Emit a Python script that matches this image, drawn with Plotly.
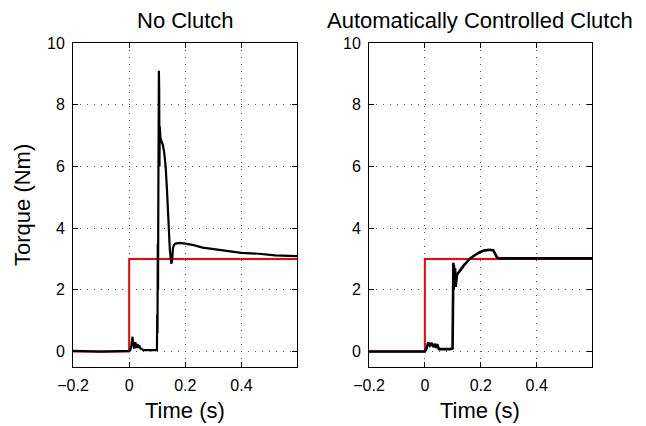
import plotly.graph_objects as go

# ---- data ----
ref_t = [-0.2, 0.0, 0.0, 0.6]
ref_torque = [0.0, 0.0, 3.0, 3.0]

t_no_clutch = [-0.2, -0.1, 0.0, 0.004, 0.008, 0.012, 0.015, 0.018, 0.022, 0.026, 0.030,
               0.033, 0.036, 0.040, 0.045, 0.050, 0.070, 0.090, 0.099, 0.100, 0.101,
               0.102, 0.103, 0.104, 0.105, 0.106, 0.107, 0.108, 0.109, 0.110, 0.111,
               0.112, 0.114, 0.116, 0.120, 0.125, 0.130, 0.135, 0.140, 0.145, 0.150,
               0.153, 0.156, 0.160, 0.165, 0.180, 0.200, 0.230, 0.262, 0.300, 0.345,
               0.400, 0.462, 0.520, 0.598]
torque_no_clutch = [0.02, 0.0, 0.02, 0.05, 0.2, 0.48, 0.2, 0.1, 0.3, 0.12, 0.25,
                    0.12, 0.2, 0.1, 0.08, 0.05, 0.05, 0.04, 0.05, 1.2, 0.6,
                    3.5, 2.0, 5.0, 8.0, 9.1, 8.5, 6.0, 7.3, 6.1, 7.0,
                    6.9, 6.85, 6.8, 6.7, 6.45, 6.0, 5.2, 4.2, 3.3, 2.85,
                    2.95, 3.35, 3.45, 3.5, 3.52, 3.5, 3.45, 3.37, 3.32, 3.25,
                    3.2, 3.17, 3.12, 3.09]

t_auto = [-0.2, -0.1, 0.0, 0.006, 0.012, 0.018, 0.024, 0.030, 0.036, 0.040, 0.044,
          0.050, 0.070, 0.090, 0.099, 0.100, 0.101, 0.102, 0.103, 0.104, 0.106,
          0.108, 0.110, 0.115, 0.120, 0.127, 0.140, 0.150, 0.162, 0.180, 0.198,
          0.215, 0.233, 0.245, 0.252, 0.258, 0.268, 0.300, 0.400, 0.500, 0.598]
torque_auto = [0.0, 0.0, 0.0, 0.1, 0.3, 0.2, 0.28, 0.15, 0.25, 0.12, 0.24,
               0.08, 0.07, 0.08, 0.1, 1.5, 2.5, 2.88, 2.0, 2.8, 2.2,
               2.7, 2.1, 2.5, 2.55, 2.64, 2.8, 2.9, 3.02, 3.13, 3.23,
               3.28, 3.3, 3.28, 3.15, 3.05, 3.02, 3.02, 3.02, 3.02, 3.02]

x_ticks = [-0.2, 0, 0.2, 0.4]
x_tick_labels = ["\u22120.2", "0", "0.2", "0.4"]
y_ticks = [0, 2, 4, 6, 8, 10]
titles = ["No Clutch", "Automatically Controlled Clutch"]
x_title = "Time (s)"
y_title = "Torque (Nm)"

FONT = "Liberation Sans, Arial, Helvetica, sans-serif"
TICK = 16
BIG = 22

fig = go.Figure()
fig.add_trace(go.Scatter(x=ref_t, y=ref_torque, mode="lines",
                         line=dict(color="#ff0000", width=2), xaxis="x", yaxis="y"))
fig.add_trace(go.Scatter(x=t_no_clutch, y=torque_no_clutch, mode="lines",
                         line=dict(color="black", width=2.2), xaxis="x", yaxis="y"))
fig.add_trace(go.Scatter(x=ref_t, y=ref_torque, mode="lines",
                         line=dict(color="#ff0000", width=2), xaxis="x2", yaxis="y2"))
fig.add_trace(go.Scatter(x=t_auto, y=torque_auto, mode="lines",
                         line=dict(color="black", width=2.6), xaxis="x2", yaxis="y2"))

# page body has an 8px margin, so figure coords = page coords - 8
W, H = 646, 426
L, R, T, B = 65, 62, 35, 67
pw = W - L - R
d1 = [0, 224 / pw]
d2 = [296 / pw, 1]

ax_common = dict(showline=True, linecolor="black", linewidth=1, mirror="ticks",
                 ticks="inside", ticklen=5, tickcolor="black", zeroline=False,
                 showgrid=True, gridcolor="#555555", griddash="1px,6px", gridwidth=1,
                 tickfont=dict(family=FONT, size=TICK, color="black"))

xax = dict(ax_common, range=[-0.2, 0.598], tickvals=x_ticks, ticktext=x_tick_labels,
           ticklabelstandoff=4)
yax = dict(ax_common, range=[-0.5, 10], tickvals=y_ticks, ticklabelstandoff=4)

ann = []
for title, d in zip(titles, [d1, d2]):
    cx = (d[0] + d[1]) / 2
    ann.append(dict(text=title, x=cx, y=1, xref="paper", yref="paper",
                    xanchor="center", yanchor="middle", yshift=23, showarrow=False,
                    font=dict(family=FONT, size=BIG, color="black")))
    ann.append(dict(text=x_title, x=cx, y=0, xref="paper", yref="paper",
                    xanchor="center", yanchor="middle", yshift=-43, showarrow=False,
                    font=dict(family=FONT, size=BIG, color="black")))
ann.append(dict(text=y_title, x=0, y=0.5, xref="paper", yref="paper", textangle=-90,
                xanchor="center", yanchor="middle", xshift=-51, showarrow=False,
                font=dict(family=FONT, size=BIG, color="black")))

fig.update_layout(
    width=W, height=H,
    margin=dict(l=L, r=R, t=T, b=B),
    paper_bgcolor="white", plot_bgcolor="white",
    showlegend=False,
    xaxis=dict(xax, domain=d1, anchor="y"),
    yaxis=dict(yax, domain=[0, 1], anchor="x"),
    xaxis2=dict(xax, domain=d2, anchor="y2"),
    yaxis2=dict(yax, domain=[0, 1], anchor="x2"),
    annotations=ann,
)

fig.write_html("out.html")
